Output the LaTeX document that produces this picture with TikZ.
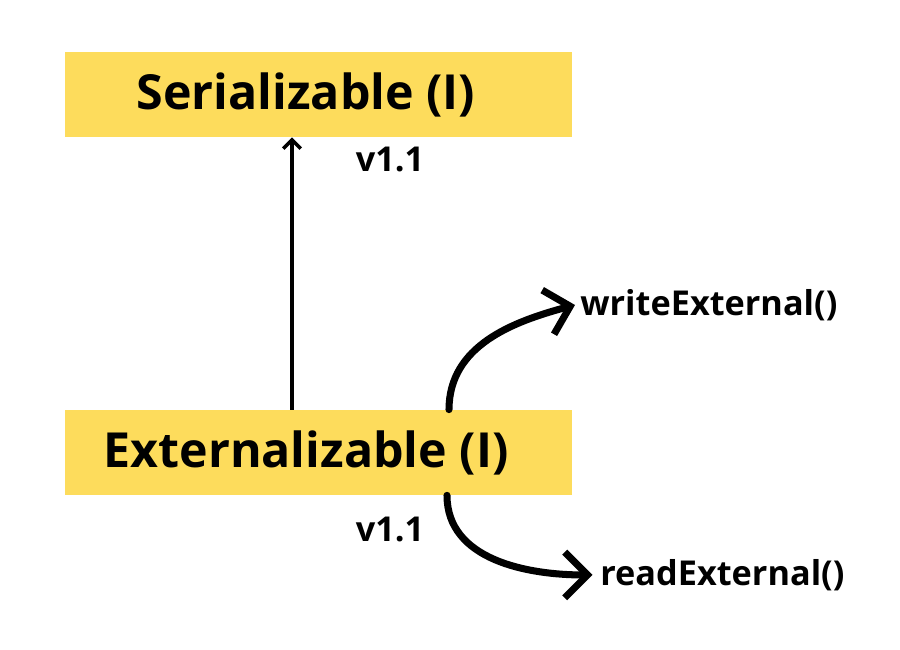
\documentclass[tikz,border=0pt]{standalone}
\usepackage{fontspec}
\setmainfont{Open Sans}
\usetikzlibrary{arrows.meta, positioning}
\definecolor{boxyellow}{HTML}{FDDC5C}

\begin{document}
\begin{tikzpicture}[font=\bfseries, >={Straight Barb[length=5pt,width=10pt]}]
    \useasboundingbox (0,0) rectangle (18,13);
    \tikzset{
        iface/.style={fill=boxyellow, minimum width=10.14cm, minimum height=1.7cm,
            font=\fontsize{27.5}{32}\selectfont\bfseries},
        label/.style={font=\fontsize{19.5}{23}\selectfont\bfseries, inner sep=0pt},
        bigarrow/.style={line width=4pt, line cap=round, -{Straight Barb[length=13pt,width=26pt]}}
    }

    \node[iface] (ser) at (6.37, 11.11) {\hspace*{-0.5cm}Serializable (I)};
    \node[iface] (ext) at (6.37, 3.95) {\hspace*{-0.5cm}Externalizable (I)};

    \node[label] (vtop) at (7.8, 9.8) {v1.1};
    \node[label] (vbot) at (7.8, 2.4) {v1.1};
    \node[label, anchor=west] (write) at (11.6, 6.9) {writeExternal()};
    \node[label, anchor=west] (read) at (12.0, 1.5) {readExternal()};

    \draw[->, line width=2pt] ([xshift=-0.53cm]ext.north) -- ([xshift=-0.53cm]ser.south);
    \draw[bigarrow] ([xshift=2.61cm]ext.north) to[out=90, in=195] ([xshift=-0.1cm]write.west);
    \draw[bigarrow] ([xshift=2.57cm]ext.south) to[out=-90, in=180] ([xshift=-0.15cm]read.west);
\end{tikzpicture}
\end{document}
